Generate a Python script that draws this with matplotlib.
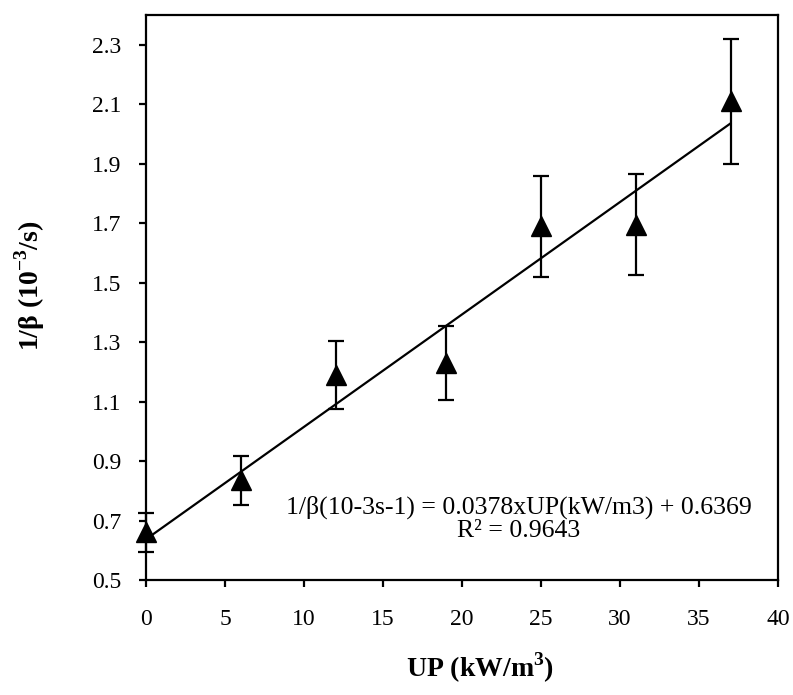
import matplotlib
matplotlib.use("Agg")
import matplotlib.pyplot as plt
from matplotlib.ticker import FormatStrFormatter, MultipleLocator
import numpy as np

plt.rcParams['font.family'] = ['Liberation Serif', 'DejaVu Serif']
plt.rcParams['mathtext.fontset'] = 'custom'
plt.rcParams['mathtext.rm'] = 'Liberation Serif'
plt.rcParams['mathtext.bf'] = 'Liberation Serif:bold'

# veri
up = [0, 6, 12, 19, 25, 31, 37]
inv_beta = [0.66, 0.835, 1.19, 1.23, 1.69, 1.695, 2.11]
err = [0.065, 0.083, 0.115, 0.124, 0.17, 0.17, 0.21]

# trend çizgisi katsayıları
slope = 0.0378
intercept = 0.6369
r2 = 0.9643

fig = plt.figure(figsize=(7.93, 6.95), dpi=100)
ax = fig.add_axes([0.1841, 0.1655, 0.981 - 0.1841, 0.9784 - 0.1655])

eb = ax.errorbar(up, inv_beta, yerr=err, fmt='^', color='black', ms=15,
                 ecolor='black', elinewidth=1.6, capsize=5.5, capthick=1.6, zorder=3)
for art in eb.lines[0:1] + tuple(eb.lines[1]) + tuple(eb.lines[2]):
    art.set_clip_on(False)

xl = np.array([up[0], up[-1]])
ax.plot(xl, slope * xl + intercept, color='black', lw=1.6, zorder=2)

ax.set_xlim(0, 40)
ax.set_ylim(0.5, 2.4)
ax.xaxis.set_major_locator(MultipleLocator(5))
ax.set_yticks(np.arange(0.5, 2.31, 0.2))
ax.yaxis.set_major_formatter(FormatStrFormatter('%.1f'))

for s in ax.spines.values():
    s.set_linewidth(1.6)
ax.tick_params(axis='both', direction='out', length=5, width=1.6, labelsize=17)
ax.tick_params(axis='x', pad=16)
ax.tick_params(axis='y', pad=13)

ax.text(23.6, 0.745, "1/β(10-3s-1) = 0.0378xUP(kW/m3) + 0.6369",
        ha='center', va='center', fontsize=18.5)
ax.text(23.6, 0.664, f"R² = {r2}", ha='center', va='center', fontsize=18.5)

fig.text(480 / 793, 1 - 668 / 695, r"UP (kW/m$^{\mathbf{3}}$)", ha='center', va='center',
         fontsize=20, fontweight='bold')
fig.text(30 / 793, 1 - 286 / 695, r"1/β (10$^{\mathbf{-3}}$/s)", ha='center', va='center',
         fontsize=20, fontweight='bold', rotation=90)

fig.savefig("out.png", dpi=100)
